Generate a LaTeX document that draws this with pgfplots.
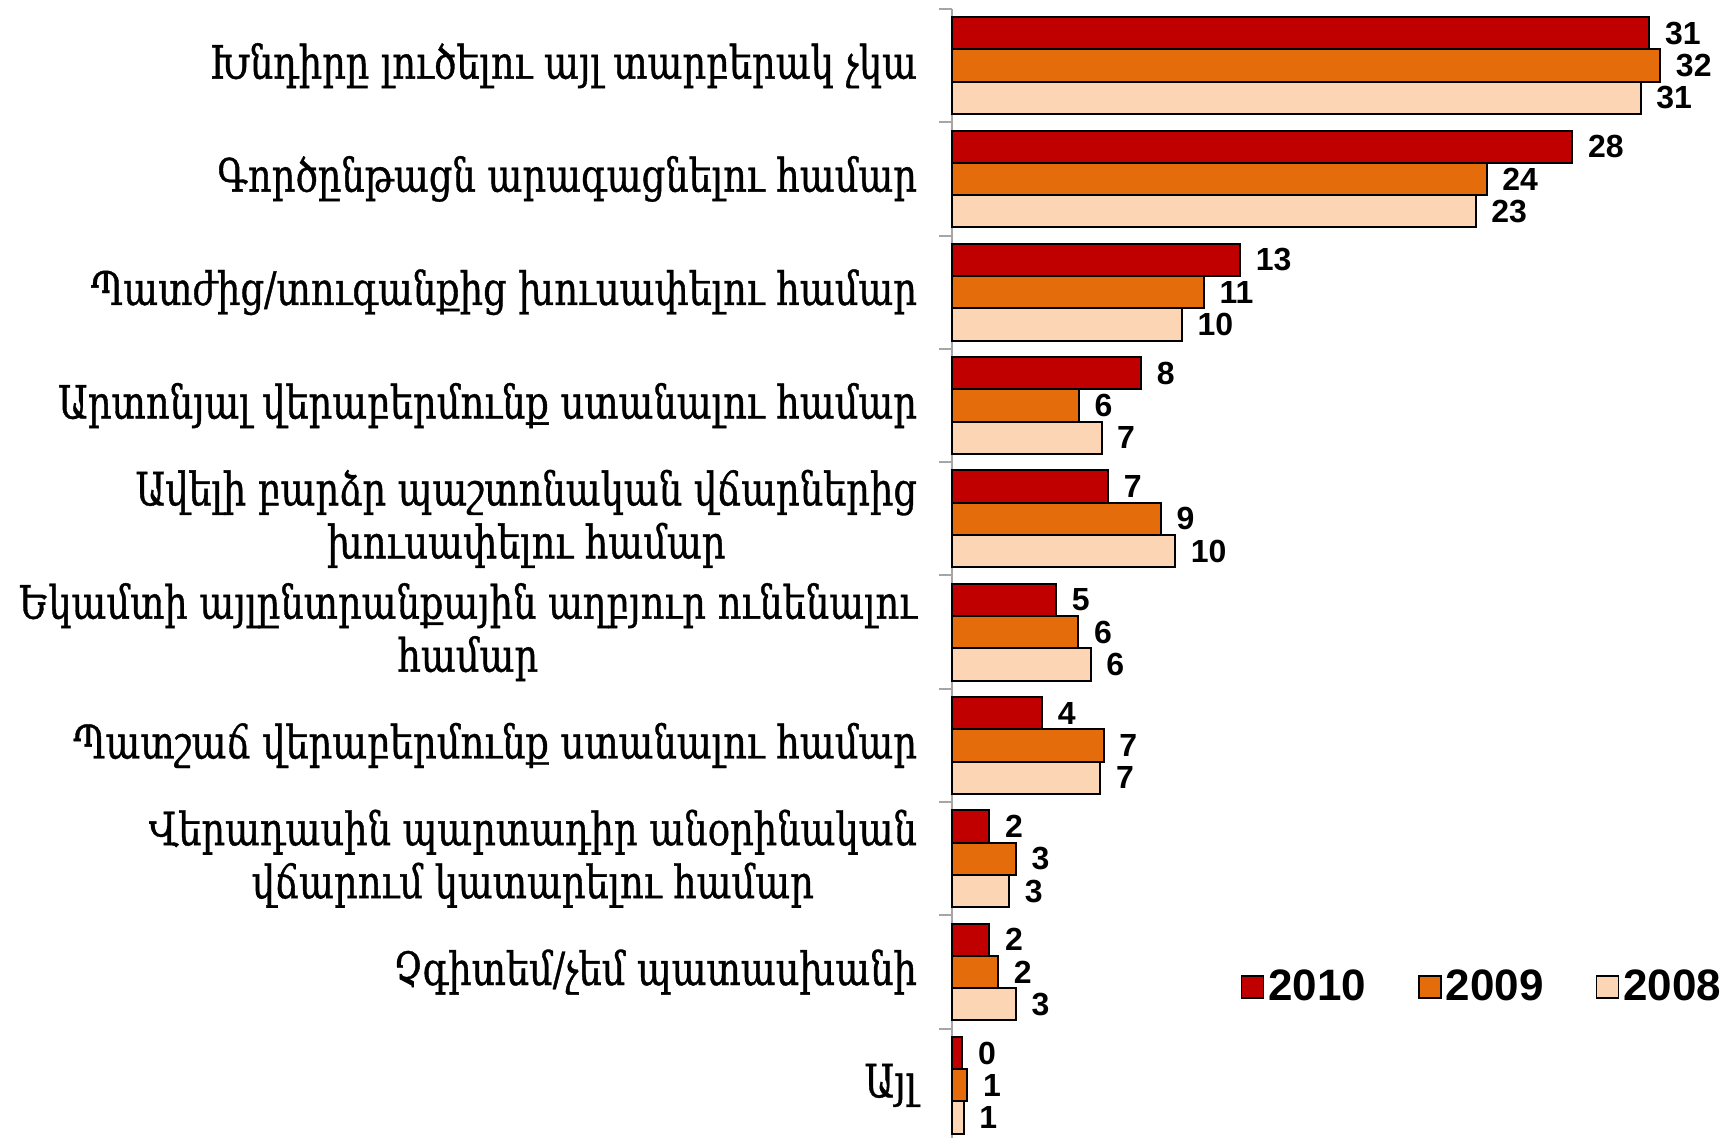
\documentclass[border=0pt]{standalone}
\usepackage{pgfplots}
\usepackage{pgfplotstable}
\pgfplotsset{compat=1.18}
\usepackage{fontspec}
\setmainfont{Liberation Sans}
\newfontfamily\arm[FakeStretch=0.8,FakeBold=0.8]{DejaVu Serif}
\definecolor{c10}{HTML}{C00000}
\definecolor{c09}{HTML}{E46C0A}
\definecolor{c08}{HTML}{FCD5B5}
\pgfplotstableread{
y v10 l10 v09 l09 v08 l08
9 30.78 31 31.26 32 30.39 31
8 27.38 28 23.60 24 23.11 23
7 12.72 13 11.12 11 10.15 10
6 8.35 8 5.60 6 6.60 7
5 6.89 7 9.22 9 9.85 10
4 4.60 5 5.58 6 6.12 6
3 3.98 4 6.70 7 6.55 7
2 1.65 2 2.82 3 2.52 3
1 1.65 2 2.04 2 2.82 3
0 0.46 0 0.68 1 0.52 1
}\data
\begin{document}
\begin{tikzpicture}
\path[use as bounding box] (0,0) rectangle (862.5pt,568.5pt);
\begin{axis}[
  at={(476pt,564pt)}, anchor=north west,
  scale only axis, width=385.2pt, height=566.5pt,
  xmin=0, xmax=34, ymin=-0.5, ymax=9.5,
  xbar, bar width=0.285,
  axis x line=none, xtick=\empty,
  axis y line=left,
  y axis line style={-, draw=gray!70, line width=1pt},
  ytick={9,8,7,6,5,4,3,2,1,0},
  yticklabels={
    {Խնդիրը լուծելու այլ տարբերակ չկա},
    {Գործընթացն արագացնելու համար},
    {Պատժից/տուգանքից խուսափելու համար},
    {Արտոնյալ վերաբերմունք ստանալու համար},
    {Ավելի բարձր պաշտոնական վճարներից\\խուսափելու համար},
    {Եկամտի այլընտրանքային աղբյուր ունենալու\\համար},
    {Պատշաճ վերաբերմունք ստանալու համար},
    {Վերադասին պարտադիր անօրինական\\վճարում կատարելու համար},
    {Չգիտեմ/չեմ պատասխանի},
    {Այլ}},
  major tick length=0pt,
  yticklabel style={font=\arm\fontsize{23}{26.5}\selectfont, align=center, xshift=-14pt},
  extra y ticks={9.5,8.5,7.5,6.5,5.5,4.5,3.5,2.5,1.5,0.5,-0.5},
  extra y tick labels={},
  extra y tick style={major tick length=6.5pt, tick align=outside, tick style={draw=gray!70, line width=1pt}},
  clip=false,
  nodes near coords,
  point meta=explicit symbolic,
  every node near coord/.append style={font=\bfseries\fontsize{16}{16}\selectfont, anchor=west, xshift=4pt, black},
  legend columns=3,
  legend style={at={(0.689,0.137)}, anchor=center, draw=none, fill=none,
    font=\bfseries\fontsize{22}{22}\selectfont,
    /tikz/every even column/.append style={column sep=24pt}},
  legend image code/.code={\draw[#1, draw=black, line width=0.8pt] (-3pt,-5.5pt) rectangle (8pt,5.5pt);},
]
\addplot[fill=c10, draw=black, line width=1pt, bar shift=0.285] table[x=v10, y=y, meta=l10] {\data};
\addplot[fill=c09, draw=black, line width=1pt, bar shift=0] table[x=v09, y=y, meta=l09] {\data};
\addplot[fill=c08, draw=black, line width=1pt, bar shift=-0.285] table[x=v08, y=y, meta=l08] {\data};
\legend{2010,2009,2008}
\end{axis}
\end{tikzpicture}
\end{document}
